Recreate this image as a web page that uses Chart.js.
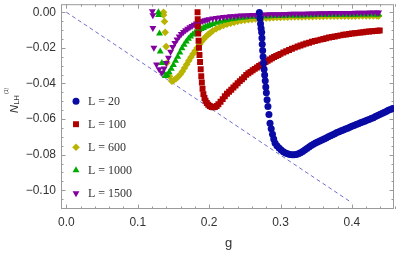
<!DOCTYPE html>
<html>
<head>
<meta charset="utf-8">
<script src="https://cdn.jsdelivr.net/npm/chart.js@4.4.0/dist/chart.umd.min.js"></script>
<style>
  html, body { margin: 0; padding: 0; background: #fff; }
  #wrap { width: 399px; height: 253px; }
</style>
</head>
<body>
<div id="wrap"><canvas id="c"></canvas></div>
<script>
// pontos: [g, N_LH^(1)]
const l20 = [[0.2704,-0.0002],[0.2712,-0.0035],[0.2720,-0.0065],[0.2728,-0.0090],[0.2736,-0.0112],[0.2740,-0.0145],[0.2744,-0.0180],[0.2750,-0.0215],[0.2756,-0.0250],[0.2763,-0.0285],[0.2770,-0.0320],[0.2778,-0.0352],[0.2786,-0.0385],[0.2794,-0.0420],[0.2802,-0.0452],[0.2812,-0.0491],[0.2824,-0.0530],[0.2838,-0.0575],[0.2853,-0.0624],[0.2870,-0.0655],[0.2888,-0.0685],[0.2905,-0.0712],[0.2923,-0.0735],[0.2950,-0.0750],[0.2980,-0.0762],[0.3010,-0.0773],[0.3040,-0.0783],[0.3070,-0.0790],[0.3100,-0.0795],[0.3130,-0.0799],[0.3160,-0.0801],[0.3190,-0.0801],[0.3220,-0.0799],[0.3250,-0.0795],[0.3280,-0.0789],[0.3310,-0.0782],[0.3340,-0.0774],[0.3370,-0.0765],[0.3400,-0.0757],[0.3430,-0.0749],[0.3460,-0.0742],[0.3490,-0.0735],[0.3520,-0.0729],[0.3550,-0.0723],[0.3580,-0.0718],[0.3610,-0.0712],[0.3640,-0.0706],[0.3670,-0.0700],[0.3700,-0.0694],[0.3730,-0.0688],[0.3760,-0.0682],[0.3790,-0.0676],[0.3820,-0.0671],[0.3850,-0.0666],[0.3880,-0.0661],[0.3910,-0.0656],[0.3940,-0.0651],[0.3970,-0.0646],[0.4000,-0.0641],[0.4030,-0.0636],[0.4060,-0.0631],[0.4090,-0.0626],[0.4120,-0.0621],[0.4150,-0.0616],[0.4180,-0.0612],[0.4210,-0.0607],[0.4240,-0.0602],[0.4270,-0.0597],[0.4300,-0.0592],[0.4330,-0.0586],[0.4360,-0.0580],[0.4390,-0.0574],[0.4420,-0.0569],[0.4450,-0.0563],[0.4480,-0.0557],[0.4510,-0.0551],[0.4540,-0.0546],[0.4570,-0.0541]];

const l100 = [[0.1838,0.0000],[0.1840,-0.0040],[0.1843,-0.0080],[0.1847,-0.0120],[0.1852,-0.0160],[0.1858,-0.0200],[0.1865,-0.0240],[0.1873,-0.0280],[0.1882,-0.0320],[0.1890,-0.0360],[0.1898,-0.0395],[0.1908,-0.0430],[0.1920,-0.0460],[0.1935,-0.0482],[0.1950,-0.0497],[0.1968,-0.0510],[0.1988,-0.0520],[0.2010,-0.0527],[0.2035,-0.0532],[0.2058,-0.0534],[0.2080,-0.0533],[0.2105,-0.0527],[0.2130,-0.0517],[0.2160,-0.0503],[0.2190,-0.0488],[0.2220,-0.0472],[0.2250,-0.0458],[0.2280,-0.0447],[0.2310,-0.0435],[0.2340,-0.0423],[0.2370,-0.0411],[0.2400,-0.0399],[0.2430,-0.0387],[0.2460,-0.0376],[0.2490,-0.0365],[0.2520,-0.0352],[0.2550,-0.0343],[0.2580,-0.0335],[0.2610,-0.0326],[0.2640,-0.0318],[0.2670,-0.0310],[0.2700,-0.0302],[0.2730,-0.0295],[0.2760,-0.0288],[0.2790,-0.0280],[0.2820,-0.0273],[0.2850,-0.0266],[0.2880,-0.0259],[0.2910,-0.0252],[0.2940,-0.0246],[0.2970,-0.0240],[0.3000,-0.0234],[0.3040,-0.0226],[0.3080,-0.0219],[0.3120,-0.0212],[0.3160,-0.0205],[0.3200,-0.0199],[0.3240,-0.0193],[0.3280,-0.0187],[0.3320,-0.0181],[0.3360,-0.0176],[0.3400,-0.0171],[0.3440,-0.0166],[0.3480,-0.0162],[0.3520,-0.0158],[0.3560,-0.0154],[0.3600,-0.0150],[0.3640,-0.0146],[0.3680,-0.0142],[0.3720,-0.0139],[0.3760,-0.0136],[0.3800,-0.0133],[0.3840,-0.0130],[0.3880,-0.0127],[0.3920,-0.0125],[0.3960,-0.0122],[0.4000,-0.0120],[0.4040,-0.0118],[0.4080,-0.0116],[0.4120,-0.0114],[0.4160,-0.0112],[0.4200,-0.0110],[0.4240,-0.0108],[0.4280,-0.0107],[0.4320,-0.0105],[0.4360,-0.0104],[0.4390,-0.0103]];

const l600 = [[0.1361,0.0000],[0.1361,-0.0015],[0.1375,-0.0052],[0.1385,-0.0113],[0.1398,-0.0193],[0.1408,-0.0285],[0.1445,-0.0360],[0.1478,-0.0387],[0.1505,-0.0382],[0.1535,-0.0374],[0.1565,-0.0363],[0.1595,-0.0350],[0.1625,-0.0333],[0.1655,-0.0313],[0.1685,-0.0293],[0.1715,-0.0273],[0.1745,-0.0253],[0.1775,-0.0234],[0.1805,-0.0216],[0.1835,-0.0199],[0.1865,-0.0181],[0.1895,-0.0165],[0.1925,-0.0150],[0.1955,-0.0137],[0.1985,-0.0126],[0.2015,-0.0116],[0.2050,-0.0105],[0.2100,-0.0093],[0.2150,-0.0083],[0.2200,-0.0075],[0.2250,-0.0068],[0.2300,-0.0062],[0.2350,-0.0057],[0.2400,-0.0052],[0.2450,-0.0048],[0.2500,-0.0045],[0.2550,-0.0042],[0.2600,-0.0040],[0.2650,-0.0038],[0.2700,-0.0036],[0.2750,-0.0034],[0.2800,-0.0033],[0.2850,-0.0032],[0.2900,-0.0031],[0.2950,-0.0030],[0.3000,-0.0029],[0.3050,-0.0028],[0.3100,-0.0028],[0.3150,-0.0027],[0.3200,-0.0027],[0.3250,-0.0026],[0.3300,-0.0026],[0.3350,-0.0025],[0.3400,-0.0025],[0.3450,-0.0025],[0.3500,-0.0024],[0.3550,-0.0024],[0.3600,-0.0024],[0.3650,-0.0023],[0.3700,-0.0023],[0.3750,-0.0023],[0.3800,-0.0023],[0.3850,-0.0022],[0.3900,-0.0022],[0.3950,-0.0022],[0.4000,-0.0022],[0.4050,-0.0022],[0.4100,-0.0021],[0.4150,-0.0021],[0.4200,-0.0021],[0.4250,-0.0021],[0.4300,-0.0021],[0.4350,-0.0021],[0.4375,-0.0021]];

const l1000 = [[0.1290,0.0000],[0.1292,-0.0015],[0.1305,-0.0120],[0.1315,-0.0221],[0.1338,-0.0285],[0.1361,-0.0338],[0.1385,-0.0358],[0.1410,-0.0352],[0.1440,-0.0337],[0.1470,-0.0318],[0.1500,-0.0297],[0.1530,-0.0273],[0.1560,-0.0250],[0.1590,-0.0226],[0.1620,-0.0203],[0.1650,-0.0182],[0.1680,-0.0164],[0.1710,-0.0149],[0.1740,-0.0136],[0.1770,-0.0125],[0.1800,-0.0116],[0.1830,-0.0108],[0.1860,-0.0101],[0.1890,-0.0094],[0.1920,-0.0088],[0.1950,-0.0082],[0.1980,-0.0077],[0.2010,-0.0072],[0.2050,-0.0066],[0.2100,-0.0059],[0.2150,-0.0053],[0.2200,-0.0048],[0.2250,-0.0044],[0.2300,-0.0040],[0.2350,-0.0037],[0.2400,-0.0034],[0.2450,-0.0031],[0.2500,-0.0029],[0.2550,-0.0027],[0.2600,-0.0026],[0.2650,-0.0025],[0.2700,-0.0024],[0.2750,-0.0023],[0.2800,-0.0022],[0.2850,-0.0022],[0.2900,-0.0021],[0.2950,-0.0021],[0.3000,-0.0020],[0.3050,-0.0020],[0.3100,-0.0019],[0.3150,-0.0019],[0.3200,-0.0018],[0.3250,-0.0018],[0.3300,-0.0018],[0.3350,-0.0017],[0.3400,-0.0017],[0.3450,-0.0017],[0.3500,-0.0016],[0.3550,-0.0016],[0.3600,-0.0016],[0.3650,-0.0015],[0.3700,-0.0015],[0.3750,-0.0015],[0.3800,-0.0015],[0.3850,-0.0014],[0.3900,-0.0014],[0.3950,-0.0014],[0.4000,-0.0014],[0.4050,-0.0014],[0.4100,-0.0013],[0.4150,-0.0013],[0.4200,-0.0013],[0.4250,-0.0013],[0.4300,-0.0013],[0.4350,-0.0013],[0.4375,-0.0013]];

const l1500 = [[0.1205,0.0005],[0.1212,-0.0017],[0.1212,-0.0088],[0.1226,-0.0199],[0.1263,-0.0293],[0.1300,-0.0320],[0.1338,-0.0340],[0.1370,-0.0316],[0.1400,-0.0285],[0.1430,-0.0255],[0.1460,-0.0222],[0.1490,-0.0196],[0.1520,-0.0173],[0.1550,-0.0153],[0.1580,-0.0136],[0.1610,-0.0122],[0.1640,-0.0111],[0.1670,-0.0101],[0.1700,-0.0093],[0.1730,-0.0085],[0.1760,-0.0078],[0.1790,-0.0071],[0.1820,-0.0064],[0.1850,-0.0058],[0.1880,-0.0053],[0.1910,-0.0049],[0.1940,-0.0045],[0.1970,-0.0042],[0.2000,-0.0039],[0.2050,-0.0035],[0.2100,-0.0032],[0.2150,-0.0029],[0.2200,-0.0027],[0.2250,-0.0025],[0.2300,-0.0023],[0.2350,-0.0022],[0.2400,-0.0020],[0.2450,-0.0019],[0.2500,-0.0018],[0.2550,-0.0017],[0.2600,-0.0016],[0.2650,-0.0015],[0.2700,-0.0014],[0.2750,-0.0014],[0.2800,-0.0013],[0.2850,-0.0012],[0.2900,-0.0012],[0.2950,-0.0011],[0.3000,-0.0011],[0.3050,-0.0010],[0.3100,-0.0010],[0.3150,-0.0009],[0.3200,-0.0009],[0.3250,-0.0008],[0.3300,-0.0008],[0.3350,-0.0008],[0.3400,-0.0007],[0.3450,-0.0007],[0.3500,-0.0007],[0.3550,-0.0006],[0.3600,-0.0006],[0.3650,-0.0006],[0.3700,-0.0005],[0.3750,-0.0005],[0.3800,-0.0005],[0.3850,-0.0004],[0.3900,-0.0004],[0.3950,-0.0004],[0.4000,-0.0004],[0.4050,-0.0003],[0.4100,-0.0003],[0.4150,-0.0003],[0.4200,-0.0003],[0.4250,-0.0002],[0.4300,-0.0002],[0.4350,-0.0002],[0.4375,-0.0002]];

// reta tracejada
const guideG = [0, 0.4];
const guideN = [0, -0.107];

// ticks
const xTicks = [0, 0.1, 0.2, 0.3, 0.4];
const yTicks = [-0.10, -0.08, -0.06, -0.04, -0.02, 0];

const colors = {
  l20: 'rgb(10,10,165)',
  l100: 'rgb(175,0,0)',
  l600: 'rgb(185,180,0)',
  l1000: 'rgb(0,170,0)',
  l1500: 'rgb(130,0,160)'
};

const pts = arr => arr.map(p => ({ x: p[0], y: p[1] }));

function serie(label, arr, color, style, radius, rotation, order) {
  return {
    label: label,
    data: pts(arr),
    pointStyle: style,
    pointRadius: radius,
    pointRotation: rotation,
    backgroundColor: color,
    borderColor: color,
    borderWidth: 0,
    showLine: false,
    order: order
  };
}

const series = [
  serie('L = 20', l20, colors.l20, 'circle', 3.5, 0, 0),
  serie('L = 100', l100, colors.l100, 'rect', 4.2, 0, 1),
  serie('L = 600', l600, colors.l600, 'rectRot', 3.8, 0, 4),
  serie('L = 1000', l1000, colors.l1000, 'triangle', 4, 0, 3),
  serie('L = 1500', l1500, colors.l1500, 'triangle', 4, 180, 2)
];

const guide = {
  label: 'guia',
  data: guideG.map((g, i) => ({ x: g, y: guideN[i] })),
  showLine: true,
  borderColor: 'rgb(110,110,205)',
  borderWidth: 1,
  borderDash: [4, 3],
  pointRadius: 0,
  order: 5
};

// moldura com ticks para dentro
const framePlugin = {
  id: 'frame',
  beforeDatasetsDraw(chart) {
    const { ctx, chartArea: a, scales: { x, y } } = chart;
    ctx.save();
    ctx.strokeStyle = '#9a9a9a';
    ctx.lineWidth = 1;
    ctx.strokeRect(a.left + 0.5, a.top + 0.5, a.right - a.left - 1, a.bottom - a.top - 1);
    ctx.beginPath();
    for (let i = 0; i <= 23; i++) {
      const px = Math.round(x.getPixelForValue(i * 0.02)) + 0.5;
      const len = i % 5 === 0 ? 4.5 : 2.5;
      ctx.moveTo(px, a.bottom); ctx.lineTo(px, a.bottom - len);
      ctx.moveTo(px, a.top); ctx.lineTo(px, a.top + len);
    }
    for (let i = 0; i <= 22; i++) {
      const py = Math.round(y.getPixelForValue(-i * 0.005)) + 0.5;
      const len = i % 4 === 0 ? 4.5 : 2.5;
      ctx.moveTo(a.left, py); ctx.lineTo(a.left + len, py);
      ctx.moveTo(a.right, py); ctx.lineTo(a.right - len, py);
    }
    ctx.stroke();
    ctx.restore();
  },
  afterDraw(chart) {
    const { ctx, chartArea: a } = chart;
    ctx.save();
    // legenda
    const order = [0, 1, 2, 3, 4];
    order.forEach((idx, k) => {
      const ds = chart.data.datasets[idx];
      const cy = a.top + 97 + k * 23;
      const cx = a.left + 15;
      ctx.fillStyle = ds.backgroundColor;
      ctx.strokeStyle = ds.borderColor;
      ctx.lineWidth = 0;
      Chart.helpers.drawPoint(ctx, {
        pointStyle: ds.pointStyle, radius: ds.pointRadius, rotation: ds.pointRotation, borderWidth: 0
      }, cx, cy);
      ctx.fillStyle = '#333';
      ctx.font = '12px "Liberation Serif"';
      ctx.textBaseline = 'middle';
      ctx.textAlign = 'left';
      ctx.fillText(ds.label, cx + 12, cy + 0.5);
    });

    // título do eixo y
    ctx.fillStyle = '#333';
    ctx.translate(17.5, 113);
    ctx.rotate(-Math.PI / 2);
    ctx.textBaseline = 'alphabetic';
    ctx.textAlign = 'left';
    ctx.font = 'italic 11px "Liberation Sans"';
    ctx.fillText('N', 0, 0);
    const wN = ctx.measureText('N').width;
    ctx.font = '7.5px "Liberation Sans"';
    ctx.fillText('LH', wN + 0.5, 1);
    const wLH = ctx.measureText('LH').width;
    ctx.font = '5px "Liberation Sans"';
    ctx.fillText('(1)', wN + wLH + 1.5, -9.5);
    ctx.restore();

    // título do eixo x
    ctx.save();
    ctx.fillStyle = '#333';
    ctx.font = '13px "Liberation Sans"';
    ctx.textAlign = 'center';
    ctx.textBaseline = 'alphabetic';
    ctx.fillText('g', (a.left + a.right) / 2 + 1, 246.5);
    ctx.restore();
  }
};

const minus = v => (v < 0 ? '\u2212' : '') + Math.abs(v);

new Chart(document.getElementById('c'), {
  type: 'scatter',
  data: { datasets: [...series, guide] },
  options: {
    responsive: true,
    maintainAspectRatio: false,
    animation: false,
    devicePixelRatio: 1,
    layout: { padding: { top: 2, right: 5, left: 0, bottom: 0 } },
    plugins: { legend: { display: false }, tooltip: { enabled: false } },
    scales: {
      x: {
        type: 'linear',
        min: -0.0075,
        max: 0.459,
        grid: { display: false, drawTicks: false },
        border: { display: false },
        afterBuildTicks: s => { s.ticks = xTicks.map(v => ({ value: v })); },
        afterFit: s => { s.height = 44; s.paddingLeft = 0; s.paddingRight = 0; },
        ticks: {
          padding: 6,
          color: '#333',
          font: { family: 'Liberation Sans', size: 12 },
          maxRotation: 0,
          callback: v => v.toFixed(1)
        }
      },
      y: {
        type: 'linear',
        min: -0.1105,
        max: 0.0045,
        grid: { display: false, drawTicks: false },
        border: { display: false },
        afterBuildTicks: s => { s.ticks = yTicks.map(v => ({ value: v })); },
        afterFit: s => { s.width = 61; s.paddingTop = 0; s.paddingBottom = 0; },
        ticks: {
          padding: 5,
          color: '#333',
          font: { family: 'Liberation Sans', size: 12 },
          callback: v => (v < 0 ? '\u2212' : '') + Math.abs(v).toFixed(2)
        }
      }
    }
  },
  plugins: [framePlugin]
});
</script>
</body>
</html>
